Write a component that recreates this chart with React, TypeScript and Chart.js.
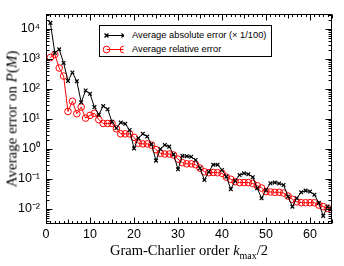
import React, { useEffect, useRef } from "react";
import { Chart, registerables } from "chart.js";

Chart.register(...registerables);

// Gram-Charlier order k_max/2
const kOrder = [
  1, 2, 3, 4, 5, 6, 7, 8, 9, 10, 11, 12, 13, 14, 15, 16, 17, 18, 19, 20,
  21, 22, 23, 24, 25, 26, 27, 28, 29, 30, 31, 32, 33, 34, 35, 36, 37, 38, 39, 40,
  41, 42, 43, 44, 45, 46, 47, 48, 49, 50, 51, 52, 53, 54, 55, 56, 57, 58, 59, 60,
  61, 62, 63, 64, 65,
];

// Average absolute error (x 1/100)
const absErrorScaled = [
  16000, 1600, 2100, 740, 186, 355, 182, 36, 89, 69,
  25, 14, 27, 21, 8.1, 5.0, 7.6, 6.9, 4.3, 1.05,
  2.3, 3.2, 2.6, 1.45, 0.41, 1.0, 1.35, 1.2, 0.66, 0.21,
  0.59, 0.575, 0.55, 0.43, 0.23, 0.093, 0.174, 0.3, 0.3, 0.2,
  0.12, 0.046, 0.087, 0.135, 0.155, 0.145, 0.115, 0.049, 0.023, 0.043,
  0.072, 0.076, 0.071, 0.063, 0.026, 0.012, 0.023, 0.036, 0.041, 0.038,
  0.03, 0.016, 0.0059, 0.012, 0.01,
];

// Average relative error
const relError = [
  1120, 1410, 500, 270, 17.8, 39, 15, 25, 10.7, 13.2,
  15.5, 9.5, 7.1, 7.1, 7.1, 4.7, 3.2, 3.2, 3.2, 2.45,
  1.55, 1.48, 1.48, 1.35, 0.95, 0.72, 0.68, 0.68, 0.63, 0.46,
  0.35, 0.32, 0.32, 0.3, 0.23, 0.174, 0.162, 0.166, 0.162, 0.155,
  0.115, 0.098, 0.081, 0.076, 0.076, 0.076, 0.071, 0.06, 0.05, 0.038,
  0.037, 0.036, 0.036, 0.034, 0.027, 0.021, 0.0174, 0.0162, 0.0162, 0.0162,
  0.0162, 0.0135, 0.012, 0.0105, 0.0093,
];

const xTickValues = [0, 10, 20, 30, 40, 50, 60];
const yTickExponents = [-2, -1, 0, 1, 2, 3, 4];

const SUP: Record<string, string> = {
  "-": "\u207B", "0": "\u2070", "1": "\u00B9", "2": "\u00B2", "3": "\u00B3",
  "4": "\u2074", "5": "\u2075", "6": "\u2076", "7": "\u2077", "8": "\u2078", "9": "\u2079",
};
const sup = (n: number) => String(n).split("").map((c) => SUP[c] || c).join("");

const X_MIN = 0;
const X_MAX = 65;
const Y_MIN = Math.pow(10, -2.5);
const Y_MAX = Math.pow(10, 4.5);

const framePlugin = {
  id: "frameTicks",
  afterDatasetsDraw(chart: any) {
    const { ctx, chartArea: a, scales } = chart;
    const xs = scales.x;
    const ys = scales.y;
    ctx.save();
    ctx.strokeStyle = "#000";
    ctx.lineWidth = 1;
    const L = Math.round(a.left) + 0.5;
    const R = Math.round(a.right) - 0.5;
    const T = Math.round(a.top) + 0.5;
    const B = Math.round(a.bottom) - 0.5;
    ctx.beginPath();
    // x ticks
    for (let v = X_MIN; v <= X_MAX; v += 1) {
      const px = Math.round(xs.getPixelForValue(v)) + 0.5;
      const len = v % 10 === 0 ? 6 : v % 5 === 0 ? 4 : 2.5;
      ctx.moveTo(px, B);
      ctx.lineTo(px, B - len);
      ctx.moveTo(px, T);
      ctx.lineTo(px, T + len);
    }
    // y ticks
    for (let e = -3; e <= 4; e++) {
      for (let m = 1; m <= 9; m++) {
        const v = m * Math.pow(10, e);
        if (v < Y_MIN || v > Y_MAX) continue;
        const py = Math.round(ys.getPixelForValue(v)) + 0.5;
        const len = m === 1 ? 6 : 3;
        ctx.moveTo(L, py);
        ctx.lineTo(L + len, py);
        ctx.moveTo(R, py);
        ctx.lineTo(R - len, py);
      }
    }
    ctx.stroke();
    ctx.strokeRect(L, T, R - L, B - T);
    ctx.restore();
  },
};

export default function App() {
  const canvasRef = useRef<HTMLCanvasElement | null>(null);

  useEffect(() => {
    const canvas = canvasRef.current;
    if (!canvas) return;
    const chart = new Chart(canvas, {
      type: "line",
      data: {
        datasets: [
          {
            label: "Average absolute error (\u00D7 1/100)",
            data: kOrder.map((k, i) => ({ x: k, y: absErrorScaled[i] })),
            borderColor: "#000",
            borderWidth: 1,
            pointStyle: "crossRot",
            pointRadius: 2.6,
            pointBorderColor: "#000",
            pointBorderWidth: 1.2,
            tension: 0,
            fill: false,
          },
          {
            label: "Average relative error",
            data: kOrder.map((k, i) => ({ x: k, y: relError[i] })),
            borderColor: "#ff0000",
            borderWidth: 1,
            pointStyle: "circle",
            pointRadius: 3.3,
            pointBorderColor: "#ff0000",
            pointBackgroundColor: "rgba(0,0,0,0)",
            pointBorderWidth: 1,
            tension: 0,
            fill: false,
          },
        ],
      },
      options: {
        responsive: false,
        animation: false,
        devicePixelRatio: 1,
        layout: { padding: { top: 14, right: 12, left: 0, bottom: 0 } },
        plugins: { legend: { display: false }, tooltip: { enabled: false } },
        scales: {
          x: {
            type: "linear",
            min: X_MIN,
            max: X_MAX,
            grid: { display: false, drawTicks: false },
            border: { display: false },
            ticks: {
              color: "#000",
              font: { family: "'Liberation Sans', Arial, sans-serif", size: 12.5 },
              padding: 3,
              maxRotation: 0,
              autoSkip: false,
            },
            afterBuildTicks: (s: any) => {
              s.ticks = xTickValues.map((v) => ({ value: v }));
            },
            afterFit: (s: any) => {
              s.height = 42;
            },
          },
          y: {
            type: "logarithmic",
            min: Y_MIN,
            max: Y_MAX,
            grid: { display: false, drawTicks: false },
            border: { display: false },
            ticks: {
              color: "#000",
              font: { family: "'Liberation Sans', Arial, sans-serif", size: 12.5 },
              padding: 6,
              autoSkip: false,
              callback: (value: any) => "10" + sup(Math.round(Math.log10(Number(value)))),
            },
            afterBuildTicks: (s: any) => {
              s.ticks = yTickExponents.map((e) => ({ value: Math.pow(10, e) }));
            },
            afterFit: (s: any) => {
              s.width = 46;
            },
          },
        },
      },
      plugins: [framePlugin],
    });
    return () => chart.destroy();
  }, []);

  const serif = "'Liberation Serif', 'Times New Roman', serif";
  const sans = "'Liberation Sans', Arial, sans-serif";

  return (
    <div style={{ position: "fixed", left: 0, top: 0, width: 344, height: 266, background: "#fff" }}>
      <canvas ref={canvasRef} width={344} height={266} style={{ width: 344, height: 266, display: "block" }} />
      {/* y axis title */}
      <div
        style={{
          position: "absolute",
          left: 12,
          top: 119,
          transform: "translate(-50%, -50%) rotate(-90deg)",
          whiteSpace: "nowrap",
          fontFamily: serif,
          fontSize: 15,
          lineHeight: "15px",
          color: "#000",
        }}
      >
        Average error on <i>P</i>(<i>M</i>)
      </div>
      {/* x axis title */}
      <div
        style={{
          position: "absolute",
          left: 189,
          top: 243,
          transform: "translateX(-50%)",
          whiteSpace: "nowrap",
          fontFamily: serif,
          fontSize: 14.5,
          lineHeight: "15px",
          color: "#000",
        }}
      >
        Gram-Charlier order <i>k</i>
        <sub style={{ fontSize: 10, verticalAlign: "-4px", lineHeight: 0 }}>max</sub>/2
      </div>
      {/* legend */}
      <div
        style={{
          position: "absolute",
          left: 99,
          top: 25,
          width: 173,
          height: 32,
          boxSizing: "border-box",
          border: "1px solid #000",
          background: "#fff",
          fontFamily: sans,
          fontSize: 9.3,
          color: "#000",
        }}
      >
        <svg width={24} height={30} style={{ position: "absolute", left: 0, top: 0 }}>
          <line x1={6.5} y1={9.5} x2={23.5} y2={9.5} stroke="#000" strokeWidth={1} />
          <path d="M4.5 7.5 L8.5 11.5 M8.5 7.5 L4.5 11.5 M21.5 7.5 L25.5 11.5 M25.5 7.5 L21.5 11.5" stroke="#000" strokeWidth={1.2} />
          <line x1={6.5} y1={23.5} x2={23.5} y2={23.5} stroke="#ff0000" strokeWidth={1} />
          <circle cx={6.5} cy={23.5} r={3.3} fill="none" stroke="#ff0000" strokeWidth={1} />
          <circle cx={23.5} cy={23.5} r={3.3} fill="none" stroke="#ff0000" strokeWidth={1} />
        </svg>
        <div style={{ position: "absolute", left: 32, top: 4, whiteSpace: "nowrap", lineHeight: "11px" }}>
          Average absolute error (× 1/100)
        </div>
        <div style={{ position: "absolute", left: 32, top: 18, whiteSpace: "nowrap", lineHeight: "11px" }}>
          Average relative error
        </div>
      </div>
    </div>
  );
}
